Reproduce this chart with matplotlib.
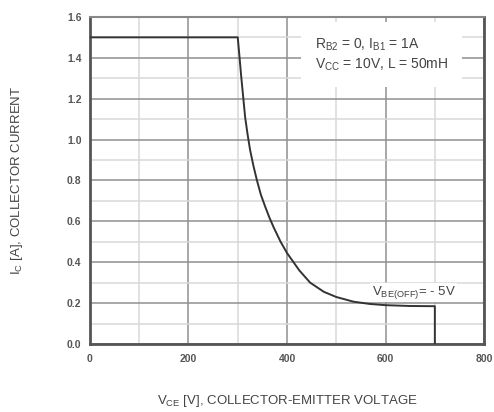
"""
Reverse bias safe operating area (RBSOA) curve
"""

import numpy as np
import matplotlib.pyplot as plt
from matplotlib.ticker import MultipleLocator

plt.rcParams['font.family'] = ['Liberation Sans', 'DejaVu Sans']
plt.rcParams['mathtext.default'] = 'regular'

# Curve
vce = [0, 300, 303, 307, 311, 315, 320, 325, 332, 339, 347, 356, 364, 373,
       387, 400, 425, 447, 475, 500, 535, 568, 600, 650, 700, 700]
ic = [1.5, 1.5, 1.42, 1.31, 1.21, 1.11, 1.025, 0.95, 0.87, 0.80, 0.73, 0.67,
      0.62, 0.57, 0.50, 0.445, 0.36, 0.30, 0.255, 0.23, 0.207, 0.196, 0.19,
      0.186, 0.185, 0.0]

x_ticks = [0, 200, 400, 600, 800]
y_ticks = [0.0, 0.2, 0.4, 0.6, 0.8, 1.0, 1.2, 1.4, 1.6]

conditions = "$R_{B2}$ = 0, $I_{B1}$ = 1A\n$V_{CC}$ = 10V, L = 50mH"
vbe_label = "$V_{BE(OFF)}$= - 5V"

fig = plt.figure(figsize=(4.94, 4.12), dpi=100)
ax = fig.add_axes([0.182, 0.165, 0.798, 0.794])

ax.set_xlim(0, 800)
ax.set_ylim(0, 1.6)
ax.set_xticks(x_ticks)
ax.set_yticks(y_ticks)
ax.set_yticklabels([f"{v:.1f}" for v in y_ticks])
ax.xaxis.set_minor_locator(MultipleLocator(100))
ax.yaxis.set_minor_locator(MultipleLocator(0.1))

ax.grid(which='major', color='#909090', linewidth=1.1)
ax.grid(which='minor', color='#d8d8d8', linewidth=1.1)
ax.set_axisbelow(True)

ax.tick_params(which='both', length=0)
ax.tick_params(axis='y', pad=6)
ax.tick_params(axis='x', pad=7)
for lab in ax.get_xticklabels() + ax.get_yticklabels():
    lab.set_fontweight('bold')
    lab.set_fontsize(7.5)
    lab.set_color('#555555')

for side in ['left', 'bottom', 'right']:
    ax.spines[side].set_color('#555555')
    ax.spines[side].set_linewidth(2)
ax.spines['top'].set_color('#888888')
ax.spines['top'].set_linewidth(1.5)

ax.plot(vce, ic, color='#333333', linewidth=1.4, zorder=3)

# white patch behind the test-condition text
ax.text(457, 1.505, conditions, fontsize=10, color='#444444', va='top',
        ha='left', linespacing=1.3,
        bbox=dict(boxstyle='square,pad=1.0', facecolor='white',
                  edgecolor='none'))
ax.text(572, 0.24, vbe_label, fontsize=9.5, color='#444444', va='baseline',
        ha='left', bbox=dict(boxstyle='square,pad=0.1', facecolor='white',
                             edgecolor='none'))

ax.set_xlabel("$V_{CE}$ [V], COLLECTOR-EMITTER VOLTAGE", fontsize=9.5,
              color='#444444', labelpad=21)
ax.set_ylabel("$I_{C}$ [A], COLLECTOR CURRENT", fontsize=9.5,
              color='#444444', labelpad=30)

fig.savefig("out.png", dpi=100)
